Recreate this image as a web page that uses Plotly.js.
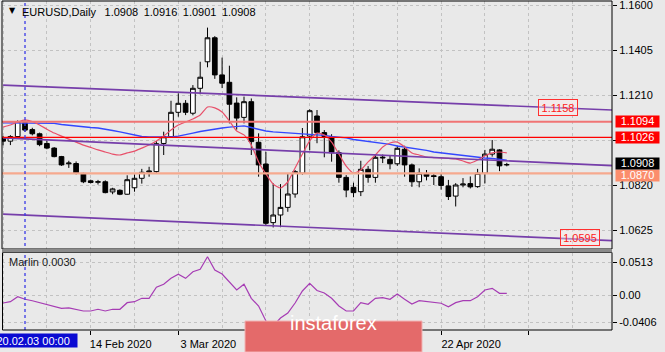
<!DOCTYPE html>
<html><head><meta charset="utf-8">
<script src="https://cdn.plot.ly/plotly-3.0.1.min.js"></script>
<style>html,body{margin:0;padding:0;background:#e9e9e9;}#chart{width:665px;height:352px;}</style>
</head><body><div id="chart"></div>
<script>
// ---------- DATA ----------
const dates = ['2020-01-29','2020-01-30','2020-01-31','2020-02-03','2020-02-04','2020-02-05','2020-02-06','2020-02-07','2020-02-10','2020-02-11',
'2020-02-12','2020-02-13','2020-02-14','2020-02-17','2020-02-18','2020-02-19','2020-02-20','2020-02-21','2020-02-24','2020-02-25',
'2020-02-26','2020-02-27','2020-02-28','2020-03-02','2020-03-03','2020-03-04','2020-03-05','2020-03-06','2020-03-09','2020-03-10',
'2020-03-11','2020-03-12','2020-03-13','2020-03-16','2020-03-17','2020-03-18','2020-03-19','2020-03-20','2020-03-23','2020-03-24',
'2020-03-25','2020-03-26','2020-03-27','2020-03-30','2020-03-31','2020-04-01','2020-04-02','2020-04-03','2020-04-06','2020-04-07',
'2020-04-08','2020-04-09','2020-04-10','2020-04-13','2020-04-14','2020-04-15','2020-04-16','2020-04-17','2020-04-20','2020-04-21',
'2020-04-22','2020-04-23','2020-04-24','2020-04-27','2020-04-28','2020-04-29','2020-04-30','2020-05-01','2020-05-04','2020-05-05'];

const open = [1.1025,1.1010,1.1030,1.1090,1.1060,1.1042,1.1000,1.0980,1.0943,1.0912,
1.0913,1.0870,1.0838,1.0832,1.0834,1.0790,1.0797,1.0780,1.0808,1.0849,
1.0876,1.0878,1.1000,1.1029,1.1135,1.1174,1.1131,1.1239,1.1354,1.1458,
1.1297,1.1265,1.1175,1.1113,1.1181,1.1005,1.0911,1.0657,1.0690,1.0723,
1.0781,1.0871,1.1032,1.1119,1.1047,1.1029,1.0960,1.0853,1.0810,1.0791,
1.0888,1.0853,1.0937,1.0931,1.0912,1.0975,1.0907,1.0834,1.0868,1.0860,
1.0856,1.0816,1.0772,1.0820,1.0826,1.0813,1.0871,1.0954,1.0972,1.0908];
const high = [1.1032,1.1036,1.1100,1.1100,1.1068,1.1047,1.1013,1.0984,1.0946,1.0925,
1.0922,1.0873,1.0843,1.0842,1.0840,1.0808,1.0801,1.0862,1.0866,1.0890,
1.0899,1.1010,1.1051,1.1185,1.1217,1.1188,1.1253,1.1354,1.1502,1.1465,
1.1372,1.1337,1.1200,1.1203,1.1195,1.1044,1.0964,1.0827,1.0824,1.0871,
1.0885,1.1067,1.1148,1.1145,1.1058,1.1040,1.0970,1.0863,1.0830,1.0925,
1.0902,1.0952,1.0952,1.0950,1.0990,1.0990,1.0913,1.0892,1.0885,1.0868,
1.0868,1.0842,1.0828,1.0850,1.0857,1.0890,1.0972,1.1015,1.0975,1.0916];
const low = [1.0992,1.0993,1.1020,1.1050,1.1035,1.0988,1.0975,1.0940,1.0903,1.0894,
1.0866,1.0828,1.0827,1.0822,1.0784,1.0780,1.0776,1.0778,1.0791,1.0826,
1.0856,1.0870,1.0950,1.1025,1.1116,1.1123,1.1122,1.1213,1.1330,1.1280,
1.1240,1.1087,1.1060,1.1087,1.0950,1.0856,1.0647,1.0636,1.0637,1.0704,
1.0765,1.0865,1.0970,1.1001,1.0940,1.0921,1.0830,1.0767,1.0767,1.0772,
1.0830,1.0830,1.0915,1.0888,1.0903,1.0856,1.0812,1.0810,1.0840,1.0820,
1.0800,1.0755,1.0727,1.0810,1.0805,1.0808,1.0827,1.0943,1.0880,1.0901];
const close = [1.1010,1.1030,1.1095,1.1058,1.1042,1.0995,1.0980,1.0943,1.0907,1.0915,
1.0870,1.0834,1.0831,1.0834,1.0787,1.0803,1.0780,1.0843,1.0849,1.0875,
1.0880,1.0999,1.1029,1.1135,1.1174,1.1135,1.1239,1.1287,1.1458,1.1297,
1.1261,1.1170,1.1110,1.1181,1.1008,1.0907,1.0654,1.0690,1.0723,1.0781,
1.0878,1.1029,1.1142,1.1047,1.1030,1.0960,1.0853,1.0798,1.0787,1.0888,
1.0853,1.0940,1.0940,1.0912,1.0979,1.0907,1.0834,1.0871,1.0858,1.0857,
1.0818,1.0770,1.0820,1.0824,1.0812,1.0871,1.0954,1.0975,1.0903,1.0908];

const maFast = [1.1071,1.1080,1.1093,1.1102,1.1095,1.1080,1.1062,1.1045,1.1032,1.1019,
1.1006,1.0993,1.0983,1.0972,1.0963,1.0954,1.0950,1.0959,1.0967,1.0980,
1.0993,1.1011,1.1032,1.1058,1.1080,1.1093,1.1106,1.1123,1.1158,1.1154,
1.1136,1.1097,1.1054,1.1037,1.0993,1.0920,1.0868,1.0824,1.0807,1.0833,
1.0894,1.0954,1.1011,1.1045,1.1037,1.1006,1.0954,1.0902,1.0872,1.0885,
1.0920,1.0950,1.0985,1.1002,1.1006,1.0985,1.0959,1.0950,1.0941,1.0939,
1.0937,1.0935,1.0933,1.0924,1.0915,1.0928,1.0946,1.0959,1.0963,1.0959];
const maSlow = [1.1089,1.1089,1.1089,1.1089,1.1089,1.1089,1.1089,1.1087,1.1082,1.1078,
1.1074,1.1071,1.1069,1.1067,1.1063,1.1056,1.1050,1.1043,1.1037,1.1030,
1.1028,1.1028,1.1028,1.1028,1.1032,1.1037,1.1045,1.1052,1.1058,1.1063,
1.1067,1.1071,1.1074,1.1076,1.1069,1.1060,1.1054,1.1050,1.1048,1.1045,
1.1043,1.1041,1.1039,1.1037,1.1035,1.1030,1.1028,1.1024,1.1017,1.1013,
1.1006,1.1002,1.1000,1.0996,1.0989,1.0985,1.0980,1.0974,1.0970,1.0963,
1.0959,1.0954,1.0950,1.0948,1.0944,1.0941,1.0937,1.0935,1.0933,1.0928];

const marlin = [-0.0115,-0.0095,-0.0018,-0.0058,-0.0080,-0.0110,-0.0130,-0.0161,-0.0196,-0.0191,
-0.0211,-0.0237,-0.0237,-0.0211,-0.0237,-0.0211,-0.0211,-0.0110,-0.0095,-0.0043,
-0.0043,0.0126,0.0172,0.0263,0.0325,0.0263,0.0364,0.0401,0.0594,0.0390,
0.0329,0.0211,0.0084,0.0172,-0.0043,-0.0161,-0.0390,-0.0467,-0.0345,-0.0268,
-0.0115,0.0069,0.0187,0.0077,0.0038,-0.0043,-0.0161,-0.0237,-0.0237,-0.0110,
-0.0135,-0.0043,-0.0034,-0.0058,0.0023,-0.0058,-0.0130,-0.0080,-0.0095,-0.0104,
-0.0119,-0.0172,-0.0110,-0.0080,-0.0080,-0.0018,0.0084,0.0110,0.0034,0.0034];

const hLevels = [1.1094, 1.1026, 1.0870];
const channelAnchorIdx = [0, 83.4];
const channelUpper = [1.1253, 1.1145];
const channelMid   = [1.1024, 1.0904];
const channelLower = [1.0694, 1.0579];
const channelLabels = [1.1158, 1.0595];
const priceTicks = [1.1600, 1.1405, 1.1210, 1.1015, 1.0820, 1.0625];
const priceTickText = ['1.1600','1.1405','1.1210','','1.0820','1.0625'];
const marlinTicks = [0.0513, 0, -0.0406];
const marlinTickText = ['0.0513','0.00','-0.0406'];
const dateTickIdx = [12, 24, 36, 48, 60, 72];
const dateTickText = ['14 Feb 2020','3 Mar 2020','19 Mar 2020','6 Apr 2020','22 Apr 2020',''];
const markerIdx = 3; // 2020.02.03 vertical line
const markerLabel = '2020.02.03 00:00';
const symbol = 'EURUSD,Daily';
const marlinName = 'Marlin 0.0030';

// ---------- LAYOUT GEOMETRY ----------
const idx = dates.map((d, i) => i);
const W = 665, H = 352, L = 2, R = 53, T = 1, B = 22;
const plotW = W - L - R, plotH = H - T - B;
const barPx = 7.3;
const xStart = -(3.1 - L) / barPx;
const xRange = [xStart, xStart + plotW / barPx];
const py = p => (H - B - p) / plotH;        // pixel y -> paper y
const pxp = p => (p - L) / plotW;           // pixel x -> paper x
const pxPerUnit = 2307.7;
const priceAt = p => 1.16 - (p - 5) / pxPerUnit;
const mPx = 653, mZero = 295.5;
const marlinAt = p => (mZero - p) / mPx;
const FF = 'Liberation Sans, Arial, sans-serif';
const last = close.length - 1;

const traces = [
  {type: 'candlestick', x: idx, open: open, high: high, low: low, close: close,
   xaxis: 'x', yaxis: 'y', whiskerwidth: 0, hoverinfo: 'skip', showlegend: false,
   increasing: {line: {color: '#000000', width: 1}, fillcolor: '#ffffff'},
   decreasing: {line: {color: '#000000', width: 1}, fillcolor: '#000000'}},
  {type: 'scatter', mode: 'lines', x: idx, y: maSlow, xaxis: 'x', yaxis: 'y',
   line: {color: '#3347ff', width: 1.4}, hoverinfo: 'skip', showlegend: false},
  {type: 'scatter', mode: 'lines', x: idx, y: maFast, xaxis: 'x', yaxis: 'y',
   line: {color: '#e8506a', width: 1.2, shape: 'spline', smoothing: 0.6}, hoverinfo: 'skip', showlegend: false},
  ...[channelUpper, channelMid, channelLower].map(c => ({
    type: 'scatter', mode: 'lines', x: channelAnchorIdx, y: c, xaxis: 'x', yaxis: 'y',
    line: {color: 'rgb(118,62,170)', width: 1.7}, hoverinfo: 'skip', showlegend: false})),
  {type: 'scatter', mode: 'lines', x: idx, y: marlin, xaxis: 'x', yaxis: 'y2',
   line: {color: '#a63cb4', width: 1.2}, hoverinfo: 'skip', showlegend: false}
];

const gridC = '#c2c2c2';
const hColors = ['#f07474', '#ff0000', '#f6a98e'];
const hWidths = [2.2, 1.3, 2.2];
const shapes = [
  {type: 'line', xref: 'paper', x0: 0, x1: 1, yref: 'y', y0: close[last], y1: close[last],
   line: {color: '#c8c8c8', width: 1}, layer: 'below'},
  ...hLevels.map((v, i) => ({type: 'line', xref: 'paper', x0: 0, x1: 1, yref: 'y', y0: v, y1: v,
   line: {color: hColors[i], width: hWidths[i]}})),
  {type: 'line', xref: 'x', x0: markerIdx, x1: markerIdx, yref: 'paper', y0: 0, y1: 1,
   line: {color: '#3a3ae6', width: 1.3, dash: 'dot'}},
  // panel borders
  {type: 'rect', xref: 'paper', yref: 'paper', x0: 0, x1: 1, y0: py(249), y1: 1,
   line: {color: '#000', width: 1}},
  {type: 'rect', xref: 'paper', yref: 'paper', x0: pxp(L + 0.5), x1: 1, y0: 0, y1: py(252.5),
   line: {color: '#000', width: 1}},
  {type: 'rect', xref: 'paper', yref: 'paper', x0: 0, x1: 1, y0: py(252.5), y1: py(249),
   fillcolor: '#8a8a8a', line: {width: 0}},
  // watermark box
  {type: 'rect', xref: 'paper', yref: 'paper', x0: pxp(245), x1: pxp(422), y0: py(352), y1: py(321),
   fillcolor: '#e46a6a', line: {color: '#f2b3b3', width: 1}}
];

const rightLabels = [
  {v: hLevels[0], bg: '#ff0000', ys: 0},
  {v: hLevels[1], bg: '#ff0000', ys: 0},
  {v: hLevels[2], bg: '#fb8d6c', ys: -2},
  {v: close[last], bg: '#000000', ys: 1.5}
];
const annotations = [
  {xref: 'paper', yref: 'paper', x: pxp(7), y: py(11), xanchor: 'left', yanchor: 'middle',
   text: '▼', showarrow: false, font: {family: 'DejaVu Sans, sans-serif', size: 8, color: '#000'}},
  {xref: 'paper', yref: 'paper', x: pxp(20), y: py(12), xanchor: 'left', yanchor: 'middle', showarrow: false,
   text: symbol + '\u2002\u00a0' + [open[last], high[last], low[last], close[last]].map(v => v.toFixed(4)).join('\u2002'),
   font: {family: FF, size: 11, color: '#000'}},
  {xref: 'paper', yref: 'paper', x: pxp(7), y: py(262), xanchor: 'left', yanchor: 'middle', showarrow: false,
   text: marlinName, font: {family: FF, size: 11, color: '#1a1a1a'}},
  ...rightLabels.map(r => ({xref: 'paper', yref: 'y', x: pxp(615), y: r.v, xanchor: 'left', yanchor: 'middle',
   yshift: r.ys, showarrow: false, text: r.v.toFixed(4), bgcolor: r.bg, width: 43, height: 10.5, borderpad: 0,
   font: {family: FF, size: 11, color: '#ffffff'}})),
  {xref: 'x', yref: 'y', x: 76.0, y: channelLabels[0], showarrow: false, text: channelLabels[0].toFixed(4),
   bordercolor: '#ff3030', borderwidth: 1, borderpad: 1, bgcolor: 'rgba(255,235,235,0.4)', width: 36, height: 13,
   font: {family: FF, size: 11, color: '#ff2020'}},
  {xref: 'x', yref: 'y', x: 79.0, y: channelLabels[1], yshift: -1, showarrow: false, text: channelLabels[1].toFixed(4),
   bordercolor: '#ff3030', borderwidth: 1, borderpad: 1, bgcolor: 'rgba(255,235,235,0.4)', width: 36, height: 13,
   font: {family: FF, size: 11, color: '#ff2020'}},
  {xref: 'x', yref: 'paper', x: markerIdx, xshift: 2, y: py(340), yanchor: 'middle', showarrow: false,
   text: markerLabel, bgcolor: '#0a0ad2', width: 100, height: 13, borderpad: 0,
   font: {family: FF, size: 11, color: '#ffffff'}},
  {xref: 'paper', yref: 'paper', x: pxp(333.5), y: py(336), showarrow: false, text: 'instaforex',
   font: {family: 'Liberation Sans, Arial, sans-serif', size: 20, color: '#ffffff'}}
];

const axFont = {family: FF, size: 11, color: '#000'};
const layout = {
  width: W, height: H,
  margin: {l: L, r: R, t: T, b: B, pad: 0},
  paper_bgcolor: '#e9e9e9', plot_bgcolor: '#e9e9e9',
  showlegend: false,
  boxgap: 0.2, boxgroupgap: 0.2,
  xaxis: {range: xRange, anchor: 'y2', tickmode: 'array', tickvals: dateTickIdx, ticktext: dateTickText,
    ticks: 'outside', ticklen: 4, tickcolor: '#000', tickfont: axFont, ticklabelshift: 30,
    showgrid: true, gridcolor: gridC, griddash: '3px,3px', gridwidth: 1,
    minor: {tickmode: 'linear', tick0: 0, dtick: 6, showgrid: true, gridcolor: gridC, griddash: '3px,3px', ticks: ''},
    zeroline: false, showline: false, rangeslider: {visible: false}, fixedrange: true},
  yaxis: {domain: [py(249), 1], range: [priceAt(249), priceAt(T)], side: 'right', anchor: 'x',
    tickmode: 'array', tickvals: priceTicks, ticktext: priceTickText, ticklabeloverflow: 'allow',
    ticks: 'outside', ticklen: 4, tickcolor: '#000', tickfont: axFont,
    showgrid: true, gridcolor: gridC, griddash: '3px,3px', zeroline: false, showline: false, fixedrange: true},
  yaxis2: {domain: [0, py(252.5)], range: [marlinAt(H - B), marlinAt(252.5)], side: 'right', anchor: 'x',
    tickmode: 'array', tickvals: marlinTicks, ticktext: marlinTickText, ticklabeloverflow: 'allow',
    ticks: 'outside', ticklen: 4, tickcolor: '#000', tickfont: axFont,
    showgrid: true, gridcolor: gridC, griddash: '3px,3px', zeroline: false, showline: false, fixedrange: true},
  shapes: shapes,
  annotations: annotations
};

Plotly.newPlot('chart', traces, layout, {staticPlot: true, displayModeBar: false});
</script></body></html>
